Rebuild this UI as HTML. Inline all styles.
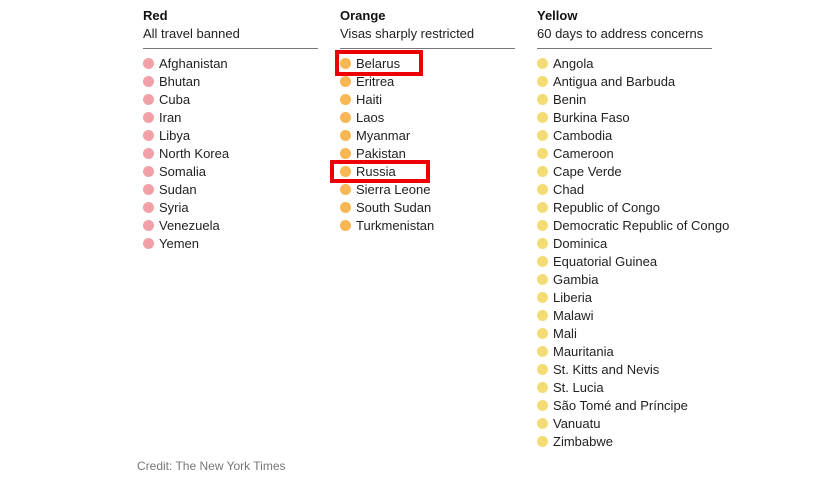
<!DOCTYPE html>
<html><head><meta charset="utf-8"><style>
body{margin:0;width:818px;height:484px;background:#fff;font-family:"Liberation Sans",Arial,sans-serif;color:#222;position:relative;overflow:hidden}
.col{position:absolute;top:8px;width:175px}
.h{font-weight:bold;font-size:13px;line-height:16px;color:#111}
.s{font-size:13px;line-height:16px;margin-top:2px;color:#222}
.rule{border-top:1px solid #777;margin-top:6px;margin-bottom:6px}
.row{height:18px;line-height:18px;font-size:13px;white-space:nowrap;position:relative}
.dot{display:inline-block;width:11px;height:11px;border-radius:50%;vertical-align:-1px;margin-right:5px}
.box{position:absolute;border:4px solid #e00;box-sizing:border-box}
.credit{position:absolute;left:137px;top:459px;font-size:12px;color:#777}
</style></head><body>
<div id="root"></div>
<div class="box" style="left:335px;top:50px;width:88px;height:26px"></div>
<div class="box" style="left:330px;top:160px;width:100px;height:23px"></div>
<div class="credit">Credit: The New York Times</div>
<script>
const titles=["Red","Orange","Yellow"];
const subs=["All travel banned","Visas sharply restricted","60 days to address concerns"];
const colors=["#f2a0a8","#f8b655","#f3dc74"];
const redList=["Afghanistan","Bhutan","Cuba","Iran","Libya","North Korea","Somalia","Sudan","Syria","Venezuela","Yemen"];
const orangeList=["Belarus","Eritrea","Haiti","Laos","Myanmar","Pakistan","Russia","Sierra Leone","South Sudan","Turkmenistan"];
const yellowList=["Angola","Antigua and Barbuda","Benin","Burkina Faso","Cambodia","Cameroon","Cape Verde","Chad","Republic of Congo","Democratic Republic of Congo","Dominica","Equatorial Guinea","Gambia","Liberia","Malawi","Mali","Mauritania","St. Kitts and Nevis","St. Lucia","São Tomé and Príncipe","Vanuatu","Zimbabwe"];
const lists=[redList,orangeList,yellowList];
const lefts=[143,340,537];
const root=document.getElementById('root');
lists.forEach((list,i)=>{
 const c=document.createElement('div');c.className='col';c.style.left=lefts[i]+'px';
 
 
 c.innerHTML='<div class="h">'+titles[i]+'</div><div class="s">'+subs[i]+'</div><div class="rule"></div>';
 list.forEach(n=>{
  const r=document.createElement('div');r.className='row';
  
  
  r.innerHTML='<span class="dot" style="background:'+colors[i]+'"></span>'+n;
  c.appendChild(r);
 });
 root.appendChild(c);
});
</script>
</body></html>
